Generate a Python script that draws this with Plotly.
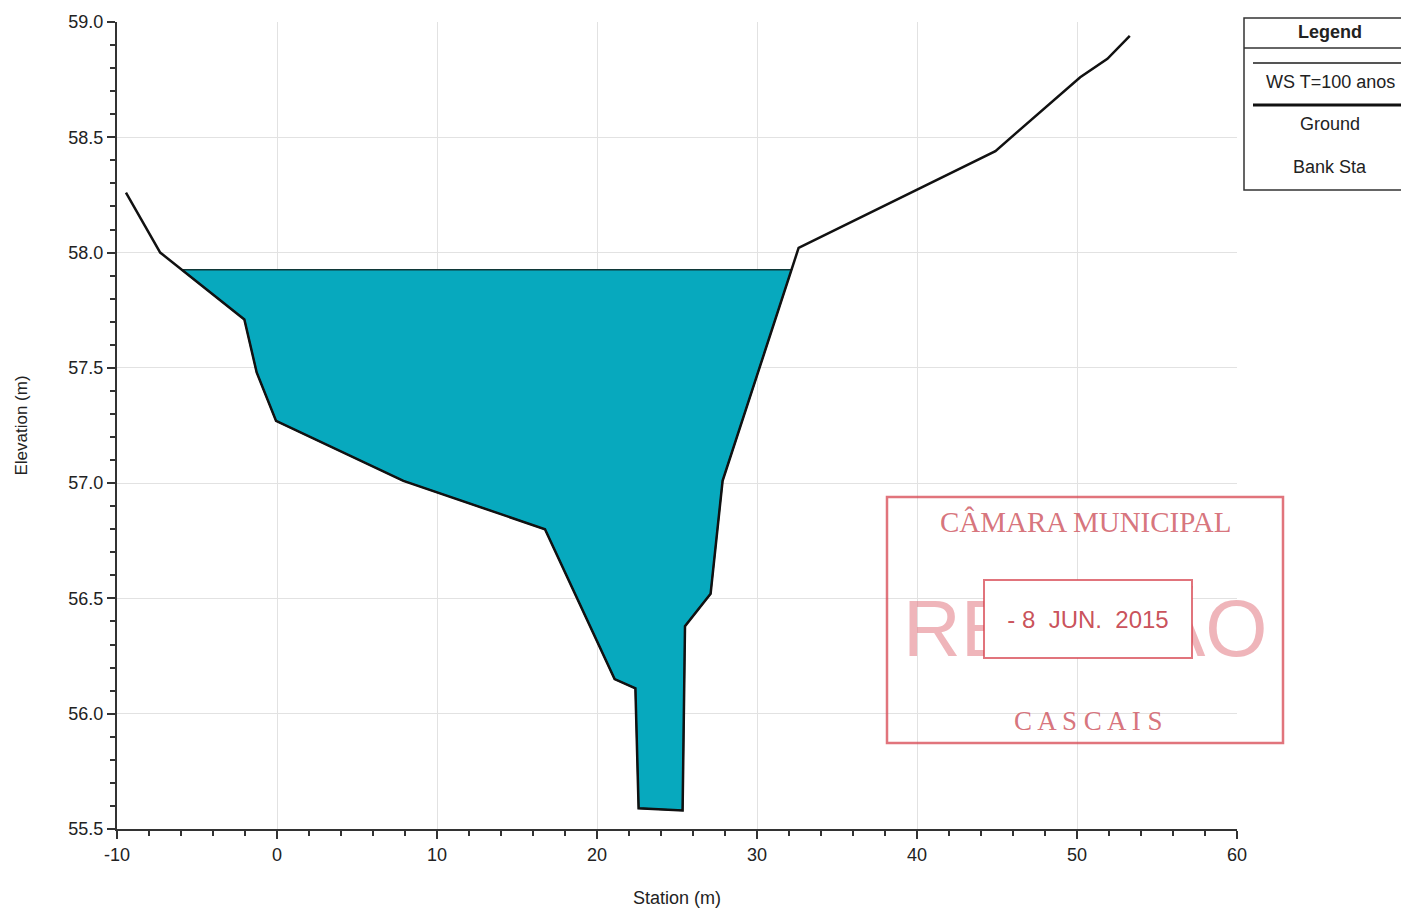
import plotly.graph_objects as go

# ---- data ----
station = [-9.44, -7.3, -2.04, -1.27, -0.06, 7.9, 16.75, 21.1, 22.4, 22.6, 25.35, 25.5, 27.1, 27.85, 32.6, 44.9, 50.2, 51.9, 53.3]
elevation = [58.26, 58.0, 57.71, 57.48, 57.27, 57.01, 56.80, 56.15, 56.11, 55.59, 55.58, 56.38, 56.52, 57.01, 58.02, 58.44, 58.76, 58.84, 58.94]
ws_elev = 57.925
ws_name = "WS T=100 anos"
x_ticks = [-10, 0, 10, 20, 30, 40, 50, 60]
y_ticks = [55.5, 56.0, 56.5, 57.0, 57.5, 58.0, 58.5, 59.0]

# ---- water polygon: ground clipped at the water surface ----
wx, wy = [], []
for i in range(len(station) - 1):
    x0, y0, x1, y1 = station[i], elevation[i], station[i + 1], elevation[i + 1]
    if y0 <= ws_elev:
        wx.append(x0); wy.append(y0)
    if (y0 - ws_elev) * (y1 - ws_elev) < 0:
        t = (ws_elev - y0) / (y1 - y0)
        wx.append(x0 + t * (x1 - x0)); wy.append(ws_elev)
wx.append(wx[0]); wy.append(wy[0])

OFF = 8  # page body margin
W, H = 1401, 900
L, R, T, B = 117, 1237, 22, 829  # plot area in page pixels


def px(p):
    return (p - L) / (R - L)


def py(p):
    return (B - p) / (B - T)


fig = go.Figure()
fig.add_trace(go.Scatter(x=wx, y=wy, mode="lines", fill="toself",
                         fillcolor="#07A9BE", line=dict(color="#103838", width=1.5),
                         name=ws_name, hoverinfo="skip"))
fig.add_trace(go.Scatter(x=station, y=elevation, mode="lines",
                         line=dict(color="#111111", width=2.5), name="Ground"))

font = "Liberation Sans, Arial, sans-serif"
axis_common = dict(showgrid=True, gridcolor="#e2e2e2", gridwidth=1, zeroline=False,
                   showline=True, linecolor="#333333", linewidth=2, ticks="outside",
                   ticklen=8, tickwidth=1.5, tickcolor="#333333", automargin=False,
                   tickfont=dict(family=font, size=18, color="#222222"))

fig.update_xaxes(range=[-10, 60], tickvals=x_ticks, ticktext=[str(v) for v in x_ticks],
                 minor=dict(dtick=2, ticklen=5, tickcolor="#333333", ticks="outside", showgrid=False),
                 title=dict(text="Station (m)", font=dict(family=font, size=18, color="#222222"), standoff=29),
                 **axis_common)
fig.update_yaxes(range=[55.5, 59.0], tickvals=y_ticks, ticktext=[f"{v:.1f}" for v in y_ticks],
                 minor=dict(dtick=0.1, ticklen=5, tickcolor="#333333", ticks="outside", showgrid=False),
                 title=dict(text="Elevation (m)", font=dict(family=font, size=17, color="#222222"), standoff=36),
                 **axis_common)

shapes = []
annotations = []

# ---- legend box (drawn) ----
lx0, lx1, ly0, ly1 = 1244, 1430, 18, 190
shapes.append(dict(type="rect", xref="paper", yref="paper", x0=px(lx0), x1=px(lx1), y0=py(ly1), y1=py(ly0),
                   line=dict(color="#333333", width=1.5), fillcolor="white", layer="above"))
shapes.append(dict(type="line", xref="paper", yref="paper", x0=px(lx0), x1=px(lx1), y0=py(48), y1=py(48),
                   line=dict(color="#333333", width=1.5), layer="above"))
shapes.append(dict(type="line", xref="paper", yref="paper", x0=px(1253), x1=px(1410), y0=py(63), y1=py(63),
                   line=dict(color="#555555", width=2), layer="above"))
shapes.append(dict(type="line", xref="paper", yref="paper", x0=px(1253), x1=px(1410), y0=py(105), y1=py(105),
                   line=dict(color="#111111", width=3), layer="above"))
for txt, yy, bold in [("Legend", 32, True), (ws_name, 82, False), ("Ground", 124, False), ("Bank Sta", 167, False)]:
    annotations.append(dict(xref="paper", yref="paper", x=px(1330), y=py(yy), showarrow=False,
                            text=f"<b>{txt}</b>" if bold else txt, xanchor="center", yanchor="middle",
                            font=dict(family=font, size=18, color="#222222")))

# ---- stamp ----
red = "rgba(215,70,80,0.75)"
shapes.append(dict(type="rect", xref="paper", yref="paper", x0=px(887), x1=px(1283), y0=py(743), y1=py(497),
                   line=dict(color=red, width=2.5), layer="above"))
annotations.append(dict(xref="paper", yref="paper", x=px(1085), y=py(522), showarrow=False,
                        text="CÂMARA MUNICIPAL", xanchor="center", yanchor="middle",
                        font=dict(family="Liberation Serif, serif", size=29, color="rgba(205,80,90,0.8)")))
annotations.append(dict(xref="paper", yref="paper", x=px(1085), y=py(628), showarrow=False,
                        text="REUNIÃO", xanchor="center", yanchor="middle",
                        font=dict(family="Liberation Sans, sans-serif", size=80,
                                  color="rgba(225,120,130,0.55)")))
annotations.append(dict(xref="paper", yref="paper", x=px(1088), y=py(619), showarrow=False,
                        text="- 8  JUN.  2015", xanchor="center", yanchor="middle", width=204, height=74,
                        bgcolor="white", bordercolor=red, borderwidth=2,
                        font=dict(family="Liberation Sans, sans-serif", size=24,
                                  color="rgba(195,60,70,0.9)")))
annotations.append(dict(xref="paper", yref="paper", x=px(1088), y=py(721), showarrow=False,
                        text="C A S C A I S", xanchor="center", yanchor="middle",
                        font=dict(family="Liberation Serif, serif", size=27, color="rgba(205,80,90,0.8)")))

fig.update_layout(width=W, height=H, margin=dict(l=L - OFF, r=W - (R - OFF), t=T - OFF, b=H - (B - OFF)),
                  paper_bgcolor="white", plot_bgcolor="white", showlegend=False,
                  shapes=shapes, annotations=annotations)

fig.write_html("out.html")
